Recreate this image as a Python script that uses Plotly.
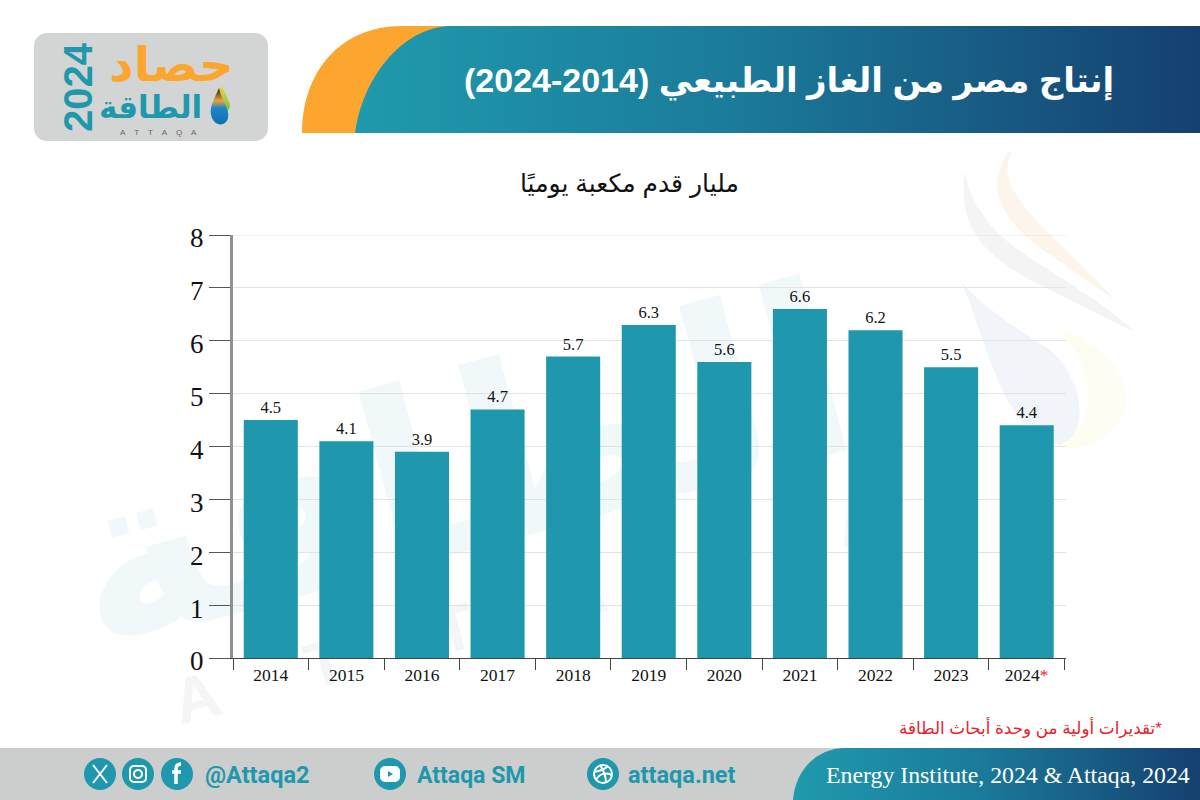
import base64
import plotly.graph_objects as go

years = ["2014", "2015", "2016", "2017", "2018", "2019", "2020", "2021", "2022", "2023", "2024"]
production = [4.5, 4.1, 3.9, 4.7, 5.7, 6.3, 5.6, 6.6, 6.2, 5.5, 4.4]
value_labels = ["4.5", "4.1", "3.9", "4.7", "5.7", "6.3", "5.6", "6.6", "6.2", "5.5", "4.4"]
tick_labels = years[:-1] + ['2024<span style="color:#e8232a">*</span>']
y_ticks = [0, 1, 2, 3, 4, 5, 6, 7, 8]

TITLE = "إنتاج مصر من الغاز الطبيعي (2014-2024)"
UNIT = "مليار قدم مكعبة يوميًا"
NOTE = "\u200f*تقديرات أولية من وحدة أبحاث الطاقة"
SOURCE = "Energy Institute, 2024 & Attaqa, 2024"

TEAL = "#1f98ad"
W, H = 1200, 800
L, R, T, B = 233, 134, 235, 142
PW, PH = W - L - R, H - T - B


def px(x):
    return (x - L) / PW


def py(y):
    return 1 - (y - T) / PH


def icon(cx, inner):
    return (f'<circle cx="{cx}" cy="774" r="16" fill="{TEAL}"/>'
            f'<g transform="translate({cx} 774)" fill="none" stroke="#fff" stroke-width="2">{inner}</g>')


svg = f'''<svg xmlns="http://www.w3.org/2000/svg" width="{W}" height="{H}" viewBox="0 0 {W} {H}">
<defs>
<linearGradient id="g" x1="0" x2="1" y1="0" y2="0">
<stop offset="0" stop-color="#1f9aad"/><stop offset="0.45" stop-color="#1b7b9a"/><stop offset="1" stop-color="#15406f"/>
</linearGradient>
<linearGradient id="d" x1="0" x2="0" y1="0" y2="1">
<stop offset="0" stop-color="#222"/><stop offset="0.35" stop-color="#e8a33a"/><stop offset="0.55" stop-color="#1b87c9"/><stop offset="1" stop-color="#0f6fb0"/>
</linearGradient>
<linearGradient id="e" x1="0" x2="0" y1="0" y2="1">
<stop offset="0" stop-color="#f6d04a"/><stop offset="1" stop-color="#7cc24a"/>
</linearGradient>
</defs>
<rect width="{W}" height="{H}" fill="#fff"/>
<path d="M965 172C955 230 990 260 1040 285C1080 305 1110 320 1135 332C1090 290 1040 270 1000 235C985 220 970 200 965 172Z" fill="#f4f4f5"/>
<path d="M1008 152C985 190 1000 220 1050 255C1080 275 1100 290 1115 300C1080 260 1040 230 1020 200C1005 180 1005 165 1012 152Z" fill="#fdf5ec"/>
<path d="M1060 330C1130 350 1150 420 1090 445C1075 450 1060 448 1060 448C1100 420 1095 370 1060 330Z" fill="#fdfdf1"/>
<path d="M960 280C985 330 1000 435 1060 445C1090 435 1085 380 1050 350C1020 330 985 310 960 280Z" fill="#f1f5fa"/>
<text transform="translate(480 548) rotate(-15)" font-family="DejaVu Sans" font-weight="bold" font-size="240" fill="#f0f8fa" text-anchor="middle">الطاقة</text>
<text transform="translate(180 725) rotate(-15)" font-family="Liberation Sans" font-weight="bold" font-size="64" fill="#f3f5f6" letter-spacing="95">ATTAQA</text>
<rect x="34" y="33" width="234" height="108" rx="13" fill="#d3d5d4"/>
<path d="M222 86C212 96 214 104 222 108C230 114 232 106 228 100C226 94 224 90 222 86Z" fill="url(#e)"/>
<path d="M219 88C214 100 208 108 212 118C216 127 226 126 228 118C230 108 222 102 219 88Z" fill="url(#d)"/>
<path d="M302 133C302 72 340 26 402 26H1200V133Z" fill="#fca52f"/>
<path d="M355 133C362 80 400 28 450 26H1200V133Z" fill="url(#g)"/>
<rect y="748" width="{W}" height="52" fill="#cbcecd"/>
<path d="M793 800C795 772 815 748 846 748H1200V800Z" fill="url(#g)"/>
{icon(100, '<path d="M-7 -9L7 9M7 -9L-7 9"/>')}
{icon(138, '<rect x="-8" y="-8" width="16" height="16" rx="4"/><circle r="4"/>')}
{icon(177, '<path d="M4 -10C0 -10 -1 -8 -1 -5V10M-5 -2H4" stroke-width="3.5"/>')}
{icon(390, '<rect x="-9" y="-7" width="18" height="14" rx="4" fill="#fff"/><path d="M-2 -3L3 0L-2 3Z" fill="#1f98ad" stroke="none"/>')}
{icon(603, '<circle r="9"/><path d="M-9 -2C-3 -3 3 -6 5 -8M-3 -9C1 -3 3 3 3 9M-7 6C-4 0 2 -2 9 1"/>')}
</svg>'''
bg = "data:image/svg+xml;base64," + base64.b64encode(svg.encode("utf-8")).decode()

fig = go.Figure(
    go.Bar(
        x=years,
        y=production,
        text=value_labels,
        textposition="outside",
        textangle=0,
        cliponaxis=False,
        textfont=dict(family="Liberation Serif", size=16.5, color="#111"),
        marker=dict(color=TEAL, line=dict(width=0)),
        hoverinfo="x+y",
    )
)


def note(x, y, text, size, color, family="Liberation Sans", bold=False, angle=0, xanchor="center"):
    if bold:
        text = f"<b>{text}</b>"
    fig.add_annotation(
        xref="paper", yref="paper", x=px(x), y=py(y), text=text, showarrow=False,
        xanchor=xanchor, yanchor="middle", textangle=angle,
        font=dict(family=family, size=size, color=color),
    )


# header and logo
note(789, 81, TITLE, 34, "#ffffff", "Liberation Sans, DejaVu Sans", True)
note(78, 87, "2024", 40, TEAL, "Liberation Sans", True, -90)
note(171, 64, "حصاد", 48, "#fca52f", "DejaVu Sans", True)
note(150, 107, "الطاقة", 31, TEAL, "DejaVu Sans", True)
note(158, 132, "A\u00a0\u00a0\u00a0\u00a0T\u00a0\u00a0\u00a0\u00a0T\u00a0\u00a0\u00a0\u00a0A\u00a0\u00a0\u00a0\u00a0Q\u00a0\u00a0\u00a0\u00a0A", 8, "#666666")

# subtitle, footnote
note(629, 183, UNIT, 25, "#111111", "Liberation Sans, DejaVu Sans")
note(1164, 727, NOTE, 16.8, "#e8232a", "Liberation Sans, DejaVu Sans", xanchor="right")

# footer
note(257, 775, "@Attaqa2", 23.5, TEAL, "Roboto", True)
note(471, 775, "Attaqa SM", 23, TEAL, "Roboto", True)
note(682, 775, "attaqa.net", 23.5, TEAL, "Roboto", True)
note(1007.5, 775, SOURCE, 23.8, "#ffffff", "Liberation Serif")

# top grid line (plotly omits the grid line on the axis end)
fig.add_shape(type="line", xref="paper", yref="y", x0=0, x1=1, y0=y_ticks[-1], y1=y_ticks[-1],
              line=dict(color="#e3e3e3", width=1), layer="below")

fig.update_layout(
    width=W, height=H, autosize=False,
    margin=dict(l=L, r=R, t=T, b=B, pad=0),
    paper_bgcolor="rgba(0,0,0,0)",
    plot_bgcolor="rgba(0,0,0,0)",
    showlegend=False,
    bargap=0.285,
    images=[dict(
        source=bg, xref="paper", yref="paper", x=px(0), y=py(0),
        sizex=W / PW, sizey=H / PH, xanchor="left", yanchor="top",
        sizing="stretch", layer="below",
    )],
    xaxis=dict(
        type="category", tickmode="array", tickvals=years, ticktext=tick_labels,
        range=[-0.5, 10.52],
        tickson="boundaries", ticks="outside", ticklen=11, tickwidth=1, tickcolor="#444",
        showline=True, linecolor="#444", linewidth=1, showgrid=False, zeroline=False,
        ticklabelstandoff=1,
        tickfont=dict(family="Liberation Serif", size=17.5, color="#111"),
    ),
    yaxis=dict(
        range=[0, 8], tickmode="array", tickvals=y_ticks,
        ticks="outside", ticklen=21, tickwidth=1, tickcolor="#555",
        showline=True, linecolor="#909090", linewidth=3,
        showgrid=True, gridcolor="#e3e3e3", gridwidth=1, zeroline=False,
        ticklabelshift=3,
        tickfont=dict(family="Liberation Serif", size=27, color="#111"),
    ),
)

fig.write_html("out.html", config=dict(displayModeBar=False), post_script="document.body.style.margin='0';")
